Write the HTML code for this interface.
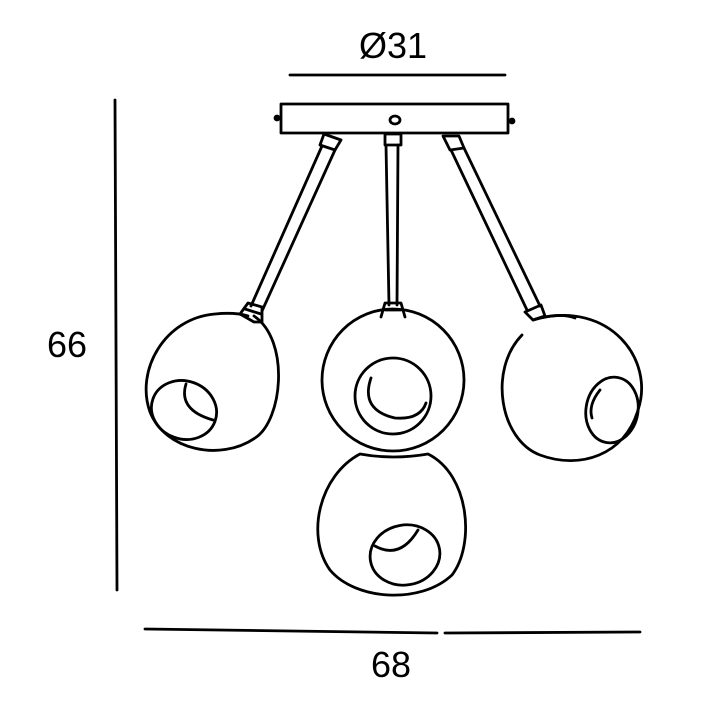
<!DOCTYPE html>
<html><head><meta charset="utf-8"><style>
html,body{margin:0;padding:0;background:#fff;}
svg{display:block}
text{font-family:"Liberation Sans",sans-serif;fill:#000}
</style></head><body>
<svg width="707" height="707" viewBox="0 0 707 707" xmlns="http://www.w3.org/2000/svg">
<g fill="none" stroke="#000" stroke-width="2.8" stroke-linecap="round" stroke-linejoin="round">
<line x1="290" y1="75" x2="505" y2="75"/>
<line x1="115" y1="100" x2="117" y2="590"/>
<line x1="145" y1="629" x2="437" y2="633"/>
<line x1="445" y1="633" x2="640" y2="632"/>
<rect x="281" y="104" width="227" height="29"/>
<ellipse cx="395" cy="120" rx="5" ry="4"/>
<circle cx="277" cy="118" r="2" fill="#000"/>
<circle cx="512" cy="121" r="2" fill="#000"/>
<path d="M324 134 L341 140 L335 150 L320 145 Z"/>
<line x1="322" y1="146" x2="251" y2="306"/>
<line x1="335" y1="150" x2="262" y2="311"/>
<path d="M240 314 L248 303 L262 307 L262 322 L254 322 Z"/>
<line x1="245" y1="309" x2="261" y2="314"/>
<path d="M385 134 L401 134 L401 145 L385 145 Z"/>
<line x1="386" y1="145" x2="389" y2="305"/>
<line x1="398" y1="145" x2="397" y2="305"/>
<path d="M381 317 L385 303 L401 303 L405 317"/>
<line x1="385" y1="310" x2="401" y2="310"/>
<path d="M443 136 L459 136 L464 148 L450 150 Z"/>
<line x1="451" y1="150" x2="527" y2="310"/>
<line x1="464" y1="148" x2="540" y2="306"/>
<path d="M525 312 L541 305 L545 316 L533 320 Z"/>
<path d="M533 320 Q560 312 575 318"/>
<path d="M254 316 C290 340 283 420 255 438 C220 462 165 450 150 412 C135 370 165 318 215 314 Q235 312 248 316"/>
<ellipse cx="184" cy="410" rx="33" ry="29" transform="rotate(20 184 410)"/>
<path d="M186 384 Q178 410 213 420"/>
<circle cx="393" cy="380" r="71"/>
<circle cx="393" cy="396" r="38"/>
<path d="M371 378 Q360 410 395 418 Q420 420 426 403"/>
<path d="M536 319 C610 300 655 360 638 410 C625 455 580 470 540 455 C500 440 488 370 522 335"/>
<ellipse cx="612" cy="410" rx="26" ry="33" transform="rotate(10 612 410)"/>
<path d="M600 390 Q588 405 592 418"/>
<path d="M360 454 Q393 460 428 454 C470 475 475 545 452 575 C420 605 355 600 330 570 C305 535 320 475 360 454"/>
<ellipse cx="405" cy="555" rx="35" ry="30" transform="rotate(-10 405 555)"/>
<path d="M375 546 Q400 560 418 530"/>
</g>
<text x="393" y="58" font-size="36" text-anchor="middle">Ø31</text>
<text x="67" y="357" font-size="36" text-anchor="middle">66</text>
<text x="391" y="677" font-size="36" text-anchor="middle">68</text>
</svg>
</body></html>
